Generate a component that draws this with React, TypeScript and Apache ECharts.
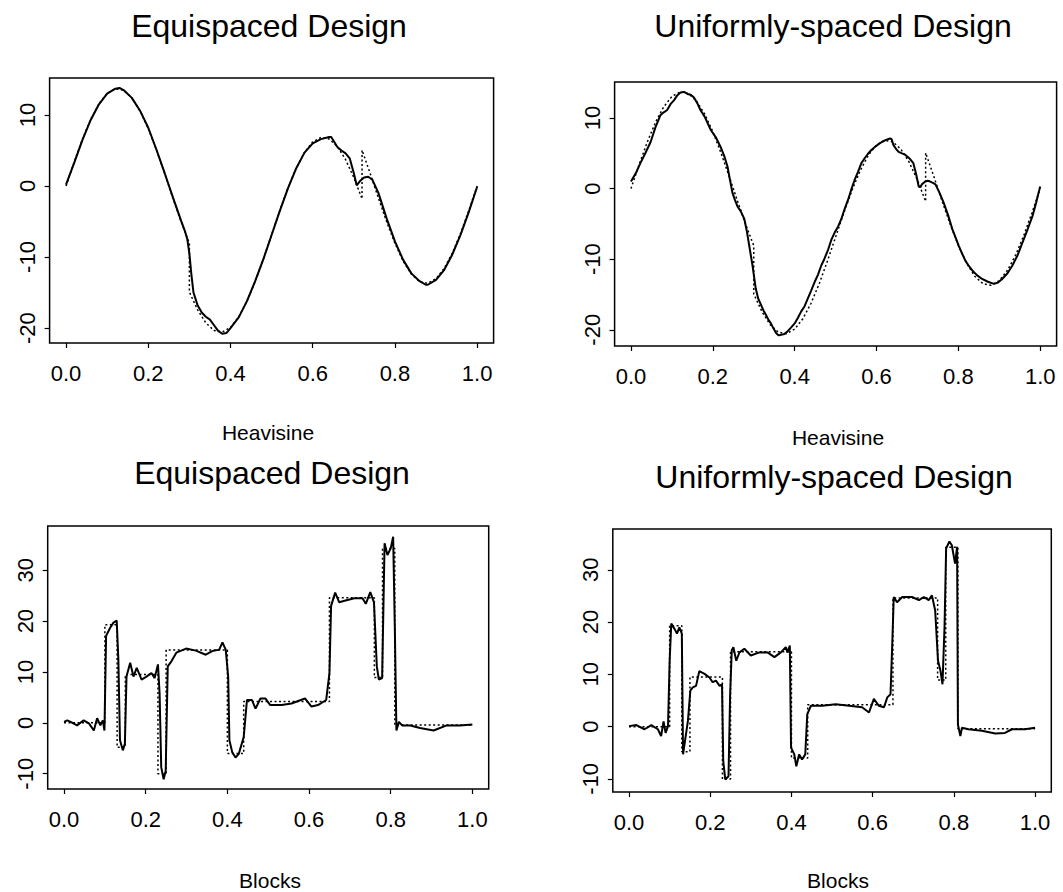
import React, { useEffect, useRef } from "react";
import * as echarts from "echarts";

const X_TICKS = [0, 0.2, 0.4, 0.6, 0.8, 1.0];
const HEAVI_Y_TICKS = [-20, -10, 0, 10];
const BLOCKS_Y_TICKS = [-10, 0, 10, 20, 30];

const TITLES = ["Equispaced Design", "Uniformly-spaced Design", "Equispaced Design", "Uniformly-spaced Design"];
const X_NAMES = ["Heavisine", "Heavisine", "Blocks", "Blocks"];

// true Heavisine (dotted)
const HEAVI_TRUE: number[][] = [
  [0, 0], [0.02, 3.41], [0.04, 6.61], [0.06, 9.39], [0.08, 11.58], [0.1, 13.05], [0.12, 13.69], [0.14, 13.48],
  [0.16, 12.41], [0.18, 10.57], [0.2, 8.07], [0.22, 5.05], [0.24, 1.72], [0.26, -1.72], [0.28, -5.05],
  [0.3, -8.07], [0.3, -14.93], [0.32, -17.43], [0.34, -19.27], [0.36, -20.34], [0.38, -20.55], [0.4, -19.91],
  [0.42, -18.44], [0.44, -16.25], [0.46, -13.47], [0.48, -10.27], [0.5, -6.86], [0.52, -3.45], [0.54, -0.25],
  [0.56, 2.53], [0.58, 4.72], [0.6, 6.19], [0.62, 6.83], [0.64, 6.62], [0.66, 5.55], [0.68, 3.71], [0.7, 1.2],
  [0.72, -1.81], [0.72, 5.05], [0.74, 1.72], [0.76, -1.72], [0.78, -5.05], [0.8, -8.07], [0.82, -10.57],
  [0.84, -12.41], [0.86, -13.48], [0.88, -13.69], [0.9, -13.05], [0.92, -11.58], [0.94, -9.39], [0.96, -6.61],
  [0.98, -3.41], [1.0, 0],
];

// estimate, equispaced design
const HEAVI_EQ_EST: number[][] = [
  [0, 0.2], [0.02, 3.3], [0.04, 6.5], [0.06, 9.3], [0.08, 11.5], [0.1, 13.0], [0.12, 13.7], [0.13, 13.8],
  [0.14, 13.5], [0.16, 12.4], [0.18, 10.6], [0.2, 8.2], [0.22, 5.1], [0.24, 1.8], [0.26, -1.6], [0.28, -4.9],
  [0.29, -6.5], [0.295, -7.5], [0.3, -9.5], [0.305, -12.5], [0.31, -15.0], [0.32, -16.8], [0.33, -17.8],
  [0.34, -18.4], [0.35, -18.8], [0.36, -19.6], [0.37, -20.4], [0.38, -20.8], [0.39, -20.7], [0.4, -20.0],
  [0.42, -18.5], [0.44, -16.2], [0.46, -13.4], [0.48, -10.3], [0.5, -6.9], [0.52, -3.5], [0.54, -0.3],
  [0.56, 2.5], [0.58, 4.7], [0.6, 6.0], [0.62, 6.6], [0.64, 6.9], [0.645, 6.9], [0.66, 5.5], [0.67, 5.0],
  [0.68, 4.6], [0.69, 3.9], [0.7, 1.8], [0.707, 0.1], [0.715, 0.7], [0.725, 1.2], [0.735, 1.3], [0.745, 0.9],
  [0.76, -1.0], [0.78, -4.6], [0.8, -7.8], [0.82, -10.4], [0.84, -12.3], [0.86, -13.4], [0.875, -13.9],
  [0.88, -13.9], [0.9, -13.2], [0.92, -11.8], [0.94, -9.6], [0.96, -6.8], [0.98, -3.6], [1.0, -0.1],
];

// estimate, uniformly-spaced design
const HEAVI_UNI_EST: number[][] = [
  [0, 1.0], [0.012, 2.2], [0.023, 3.6], [0.035, 5.0], [0.048, 6.6], [0.06, 8.7], [0.072, 10.4], [0.08, 10.8],
  [0.088, 11.1], [0.097, 12.0], [0.105, 12.5], [0.113, 13.2], [0.121, 13.6], [0.13, 13.7], [0.138, 13.4],
  [0.146, 13.3], [0.154, 12.9], [0.162, 12.1], [0.17, 11.1], [0.18, 10.2], [0.195, 8.3], [0.207, 7.3],
  [0.219, 5.9], [0.228, 4.6], [0.236, 3.1], [0.242, 1.2], [0.248, -0.6], [0.254, -1.6], [0.26, -2.5],
  [0.268, -3.2], [0.277, -4.3], [0.283, -6.0], [0.289, -8.1], [0.297, -10.9], [0.305, -14.2], [0.311, -15.6],
  [0.318, -16.5], [0.324, -17.3], [0.33, -17.9], [0.336, -18.6], [0.342, -19.1], [0.348, -19.8], [0.355, -20.5],
  [0.361, -20.8], [0.367, -20.7], [0.375, -20.6], [0.383, -20.2], [0.391, -19.7], [0.4, -19.1], [0.408, -18.3],
  [0.416, -17.4], [0.424, -16.7], [0.432, -15.6], [0.44, -14.5], [0.449, -13.2], [0.457, -12.2], [0.465, -10.9],
  [0.473, -9.9], [0.482, -8.6], [0.49, -7.2], [0.498, -6.2], [0.506, -5.4], [0.514, -4.3], [0.522, -2.9],
  [0.531, -1.5], [0.539, 0.0], [0.547, 1.3], [0.555, 2.4], [0.563, 3.6], [0.571, 4.3], [0.58, 5.0], [0.588, 5.5],
  [0.596, 5.9], [0.605, 6.3], [0.613, 6.6], [0.623, 6.9], [0.633, 7.1], [0.637, 7.0], [0.641, 6.2], [0.648, 5.6],
  [0.654, 5.2], [0.662, 5.0], [0.67, 4.8], [0.68, 4.3], [0.69, 3.6], [0.697, 2.0], [0.703, 0.3], [0.707, 0.2],
  [0.711, 0.6], [0.719, 1.0], [0.725, 1.1], [0.731, 1.0], [0.738, 0.8], [0.744, 0.6], [0.754, -0.6], [0.764, -2.0],
  [0.775, -3.8], [0.785, -5.7], [0.793, -6.9], [0.801, -8.1], [0.809, -9.2], [0.817, -10.2], [0.826, -11.0],
  [0.834, -11.6], [0.846, -12.3], [0.858, -12.8], [0.872, -13.2], [0.887, -13.5], [0.897, -13.3], [0.907, -12.8],
  [0.92, -12.0], [0.932, -10.9], [0.945, -9.4], [0.957, -7.6], [0.969, -5.8], [0.981, -3.9], [0.99, -2.0],
  [0.995, -0.8], [1.0, 0.3],
];

// true Blocks (dotted)
const BLOCKS_TRUE: number[][] = [
  [0, 0], [0.1, 0], [0.1, 19.3], [0.13, 19.3], [0.13, -4.8], [0.15, -4.8], [0.15, 9.5], [0.23, 9.5],
  [0.23, -10.0], [0.25, -10.0], [0.25, 14.3], [0.4, 14.3], [0.4, -6.0], [0.44, -6.0], [0.44, 4.2], [0.65, 4.2],
  [0.65, 24.6], [0.76, 24.6], [0.76, 8.9], [0.78, 8.9], [0.78, 34.3], [0.81, 34.3], [0.81, -0.4], [1.0, -0.4],
];

const BLOCKS_EQ_EST: number[][] = [
  [0, 0.2], [0.008, 0.5], [0.016, 0.2], [0.032, -0.5], [0.048, 0.5], [0.061, -0.1], [0.073, -1.5], [0.081, 0.9],
  [0.089, -0.5], [0.095, 0.5], [0.099, -1.5], [0.103, 17.1], [0.113, 18.7], [0.121, 19.7], [0.129, 20.1],
  [0.133, 12.5], [0.137, -3.4], [0.144, -5.4], [0.149, -4.1], [0.153, 9.1], [0.162, 11.8], [0.17, 9.1],
  [0.178, 10.8], [0.19, 8.5], [0.202, 9.1], [0.214, 9.8], [0.222, 8.8], [0.23, 11.5], [0.234, 5.8],
  [0.238, -8.7], [0.244, -11.1], [0.249, -9.4], [0.254, 11.1], [0.263, 12.1], [0.275, 13.8], [0.299, 14.6],
  [0.323, 14.2], [0.347, 13.4], [0.363, 14.1], [0.38, 14.4], [0.388, 15.8], [0.396, 14.4], [0.402, 9.1],
  [0.405, -3.4], [0.412, -5.8], [0.42, -6.8], [0.428, -6.1], [0.44, -2.8], [0.448, 4.5], [0.46, 4.5],
  [0.469, 2.8], [0.481, 4.8], [0.493, 4.8], [0.505, 3.5], [0.533, 3.5], [0.557, 3.8], [0.59, 4.8], [0.606, 3.2],
  [0.622, 3.5], [0.642, 4.5], [0.65, 9.8], [0.654, 23.0], [0.664, 25.6], [0.674, 23.7], [0.687, 24.0],
  [0.711, 24.5], [0.731, 24.5], [0.739, 23.4], [0.75, 25.7], [0.759, 23.7], [0.766, 11.1], [0.771, 8.5],
  [0.779, 8.8], [0.785, 35.3], [0.792, 33.0], [0.8, 34.3], [0.806, 36.6], [0.81, 19.1], [0.814, -1.5],
  [0.82, 0.2], [0.828, -0.5], [0.848, -0.5], [0.872, -1.0], [0.905, -1.5], [0.937, -0.5], [0.969, -0.5],
  [1.0, -0.3],
];

const BLOCKS_UNI_EST: number[][] = [
  [0, 0.1], [0.018, 0.3], [0.038, -0.5], [0.055, 0.3], [0.071, -0.5], [0.079, -1.8], [0.085, 1.0], [0.09, -1.2],
  [0.096, 0.1], [0.1, 12.6], [0.104, 19.7], [0.112, 18.7], [0.118, 17.8], [0.124, 19.0], [0.13, 17.8],
  [0.133, -5.3], [0.139, -2.1], [0.145, 1.1], [0.151, 6.9], [0.157, 7.5], [0.165, 7.8], [0.173, 10.6],
  [0.186, 10.1], [0.198, 9.4], [0.206, 8.5], [0.214, 8.8], [0.223, 7.8], [0.229, 8.1], [0.232, -6.6],
  [0.237, -10.1], [0.245, -9.5], [0.249, 6.2], [0.253, 14.6], [0.257, 15.2], [0.264, 12.6], [0.272, 14.2],
  [0.284, 14.9], [0.3, 13.6], [0.321, 14.2], [0.341, 14.2], [0.358, 13.3], [0.374, 14.2], [0.386, 15.2],
  [0.39, 14.2], [0.396, 15.5], [0.399, -4.0], [0.407, -5.3], [0.412, -7.6], [0.419, -5.3], [0.426, -6.3],
  [0.434, -5.3], [0.439, 2.4], [0.448, 4.0], [0.476, 4.0], [0.509, 4.3], [0.542, 4.0], [0.574, 3.7],
  [0.591, 2.7], [0.603, 5.3], [0.615, 4.0], [0.628, 3.7], [0.636, 5.6], [0.644, 6.2], [0.648, 15.2],
  [0.652, 24.8], [0.66, 23.8], [0.673, 24.8], [0.697, 24.8], [0.714, 24.2], [0.726, 24.8], [0.738, 24.2],
  [0.746, 25.1], [0.754, 22.2], [0.761, 12.6], [0.767, 10.7], [0.772, 8.1], [0.777, 19.0], [0.781, 34.1],
  [0.789, 35.4], [0.795, 34.7], [0.803, 31.2], [0.808, 34.4], [0.81, 0.4], [0.816, -1.8], [0.82, -0.2],
  [0.836, -0.5], [0.869, -0.8], [0.902, -1.3], [0.926, -1.2], [0.943, -0.5], [0.975, -0.5], [1.0, -0.2],
];

const FONT = '"Liberation Sans", Arial, Helvetica, sans-serif';

const PANELS = [
  { left: 49.6, top: 78, width: 444, height: 265, yMin: -22.1, yMax: 15.2, yTicks: HEAVI_Y_TICKS, truth: HEAVI_TRUE, est: HEAVI_EQ_EST, titleX: 269, titleY: 26, nameX: 268, nameY: 432 },
  { left: 614.6, top: 82, width: 442, height: 264, yMin: -22.3, yMax: 15.1, yTicks: HEAVI_Y_TICKS, truth: HEAVI_TRUE, est: HEAVI_UNI_EST, titleX: 833, titleY: 26, nameX: 838, nameY: 437 },
  { left: 47.7, top: 526, width: 441, height: 263, yMin: -13.0, yMax: 38.7, yTicks: BLOCKS_Y_TICKS, truth: BLOCKS_TRUE, est: BLOCKS_EQ_EST, titleX: 272, titleY: 473, nameX: 270, nameY: 880 },
  { left: 612.8, top: 529, width: 438.5, height: 263, yMin: -12.5, yMax: 37.8, yTicks: BLOCKS_Y_TICKS, truth: BLOCKS_TRUE, est: BLOCKS_UNI_EST, titleX: 834, titleY: 477, nameX: 838, nameY: 880 },
];

export default function App() {
  const ref = useRef<HTMLDivElement>(null);
  useEffect(() => {
    if (!ref.current) return;
    const chart = echarts.init(ref.current, null, { renderer: "svg" });
    const grid = PANELS.map((p) => ({
      left: p.left, top: p.top, width: p.width, height: p.height,
      show: true, borderColor: "#000", borderWidth: 1.5, backgroundColor: "transparent", containLabel: false,
    }));
    const xAxis = PANELS.map((p, i) => ({
      type: "value", gridIndex: i, min: -0.04, max: 1.04, position: "bottom",
      axisLine: { show: false, onZero: false },
      splitLine: { show: false },
      axisTick: { show: true, inside: false, length: 5, customValues: X_TICKS, lineStyle: { color: "#000", width: 1.2 } },
      axisLabel: {
        show: true, customValues: X_TICKS, margin: 19, color: "#000", fontSize: 22, fontFamily: FONT,
        formatter: (v: number) => v.toFixed(1),
      },
    }));
    const yAxis = PANELS.map((p, i) => ({
      type: "value", gridIndex: i, min: p.yMin, max: p.yMax, position: "left",
      axisLine: { show: false, onZero: false },
      splitLine: { show: false },
      axisTick: { show: true, inside: false, length: 5, customValues: p.yTicks, lineStyle: { color: "#000", width: 1.2 } },
      axisLabel: {
        show: true, customValues: p.yTicks, rotate: 90, margin: 11, color: "#000", fontSize: 22, fontFamily: FONT,
        formatter: (v: number) => String(Math.round(v)),
      },
    }));
    const series: any[] = [];
    PANELS.forEach((p, i) => {
      series.push({
        type: "line", xAxisIndex: i, yAxisIndex: i, data: p.truth, showSymbol: false, silent: true,
        lineStyle: { color: "#000", width: 1.5, type: [2, 2.5] },
      });
      series.push({
        type: "line", xAxisIndex: i, yAxisIndex: i, data: p.est, showSymbol: false, silent: true,
        lineStyle: { color: "#000", width: 2 },
      });
    });
    const graphic: any[] = [];
    PANELS.forEach((p, i) => {
      graphic.push({
        type: "text", x: p.titleX, y: p.titleY,
        style: { text: TITLES[i], font: `32px ${FONT}`, fill: "#000", textAlign: "center", textVerticalAlign: "middle" },
      });
      graphic.push({
        type: "text", x: p.nameX, y: p.nameY,
        style: { text: X_NAMES[i], font: `21px ${FONT}`, fill: "#000", textAlign: "center", textVerticalAlign: "middle" },
      });
    });
    chart.setOption({
      animation: false,
      backgroundColor: "#fff",
      grid, xAxis, yAxis, series, graphic,
    });
    return () => chart.dispose();
  }, []);
  return <div ref={ref} style={{ position: "absolute", left: 0, top: 0, width: 1063, height: 892 }} />;
}
